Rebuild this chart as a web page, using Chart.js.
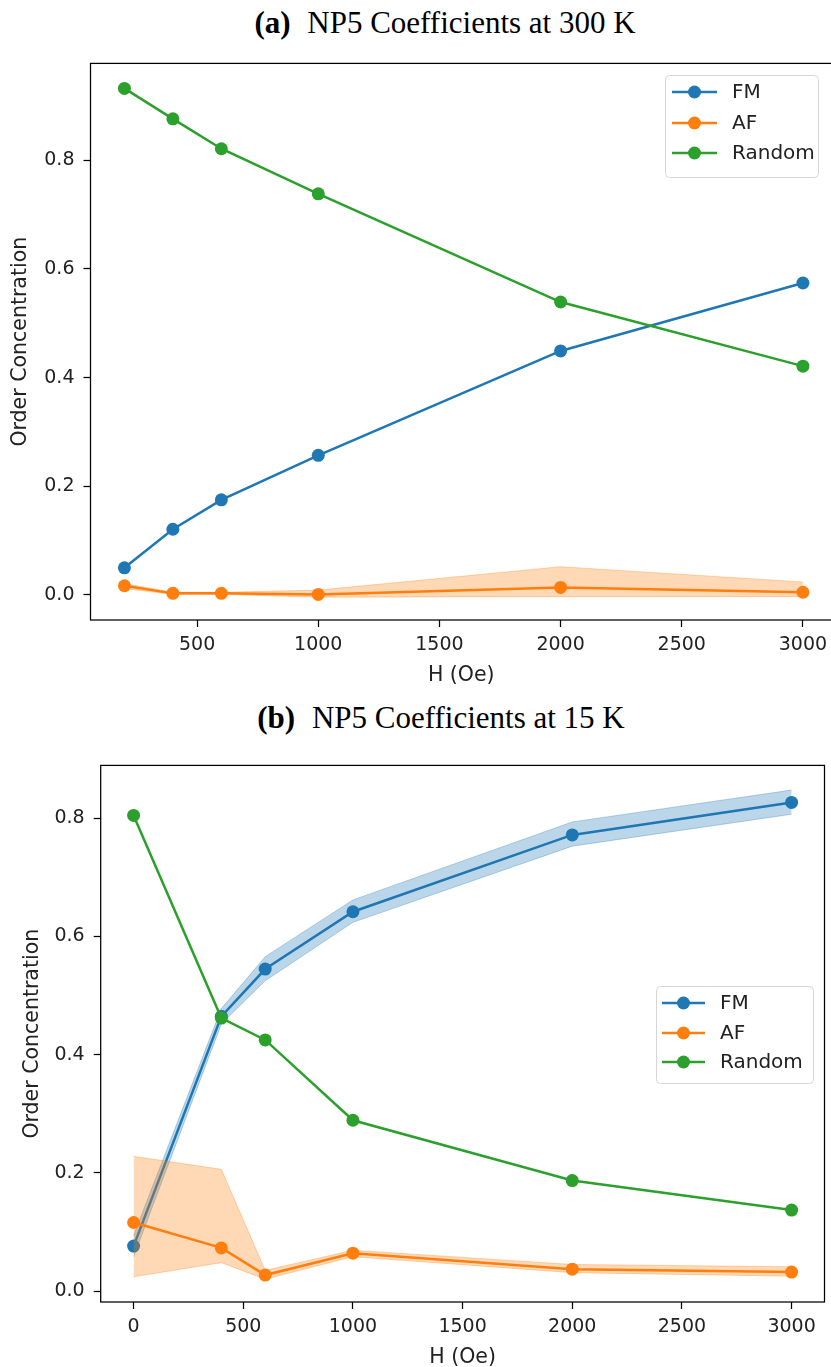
<!DOCTYPE html>
<html>
<head>
<meta charset="utf-8">
<script src="https://cdn.jsdelivr.net/npm/chart.js@4/dist/chart.umd.min.js"></script>
<style>
	html, body { margin: 0; padding: 0; background: #fff; }
	body { position: relative; width: 831px; height: 1367px; overflow: hidden; }
	.caption {
		position: absolute; left: 0; text-align: center; white-space: nowrap; color: #000;
		font-family: "Liberation Serif", "Times New Roman", serif; font-size: 31px; line-height: 31px;
	}
	.caption b { margin-right: 9px; }
	canvas { position: absolute; left: 0; }
</style>
</head>
<body>
<div class="caption" style="top:7px; width:890px;"><b>(a)</b> NP5 Coefficients at 300 K</div>
<canvas id="cnv_300k" width="840" height="645" style="top:43px;"></canvas>
<div class="caption" style="top:702px; width:882px;"><b>(b)</b> NP5 Coefficients at 15 K</div>
<canvas id="cnv_15k" width="831" height="625" style="top:745px;"></canvas>

<script>
// ---- 300 K run ----
const fieldsHot = [200, 400, 600, 1000, 2000, 3000];
const fmHot = [0.050, 0.121, 0.175, 0.257, 0.449, 0.574];
const afHot = [0.017, 0.003, 0.003, 0.001, 0.014, 0.005];
const afHotHi = [0.021, 0.005, 0.005, 0.009, 0.052, 0.024];
const afHotLo = [0.012, 0.001, 0.001, -0.004, -0.003, -0.003];
const randomHot = [0.932, 0.876, 0.821, 0.738, 0.539, 0.421];
const xTicksHot = [500, 1000, 1500, 2000, 2500, 3000];
const yTicksHot = [0.0, 0.2, 0.4, 0.6, 0.8];

// ---- 15 K run ----
const fieldsCold = [0, 400, 600, 1000, 2000, 3000];
const fmCold = [0.076, 0.465, 0.545, 0.642, 0.772, 0.827];
const fmColdHi = [0.094, 0.478, 0.566, 0.662, 0.794, 0.848];
const fmColdLo = [0.058, 0.452, 0.525, 0.624, 0.753, 0.807];
const afCold = [0.116, 0.073, 0.027, 0.064, 0.037, 0.032];
const afColdHi = [0.228, 0.206, 0.035, 0.069, 0.045, 0.041];
const afColdLo = [0.024, 0.048, 0.020, 0.058, 0.031, 0.025];
const randomCold = [0.805, 0.462, 0.425, 0.289, 0.187, 0.137];
const xTicksCold = [0, 500, 1000, 1500, 2000, 2500, 3000];
const yTicksCold = [0.0, 0.2, 0.4, 0.6, 0.8];

const seriesNames = ['FM', 'AF', 'Random'];
const seriesColors = ['#1f77b4', '#ff7f0e', '#2ca02c'];
const seriesRgb = ['31,119,180', '255,127,14', '44,160,44'];

Chart.defaults.font.family = "'DejaVu Sans', sans-serif";
Chart.defaults.color = '#222';

const pts = (xs, ys) => xs.map((x, i) => ({ x, y: ys[i] }));

// solid line with round markers
const lineSet = (label, xs, ys, idx, order) => ({
	label,
	data: pts(xs, ys),
	borderColor: seriesColors[idx],
	backgroundColor: seriesColors[idx],
	pointBackgroundColor: seriesColors[idx],
	borderWidth: 2.5,
	pointRadius: 6.5,
	pointHoverRadius: 6.5,
	pointBorderWidth: 0,
	tension: 0,
	fill: false,
	order
});

// shaded spread: upper edge fills down to the lower edge (next dataset)
const bandSets = (xs, hi, lo, idx, order) => {
	const c = `rgba(${seriesRgb[idx]},0.3)`;
	return [
		{ label: '', data: pts(xs, hi), borderColor: c, backgroundColor: c, borderWidth: 1, pointRadius: 0, tension: 0, fill: '+1', order },
		{ label: '', data: pts(xs, lo), borderColor: c, backgroundColor: c, borderWidth: 1, pointRadius: 0, tension: 0, fill: false, order }
	];
};

// box around the plotting area (all four spines)
const framePlugin = {
	id: 'frame',
	afterDatasetsDraw(chart) {
		const { ctx, chartArea: a } = chart;
		ctx.save();
		ctx.strokeStyle = '#000';
		ctx.lineWidth = 1.25;
		ctx.strokeRect(a.left, a.top, a.right - a.left, a.bottom - a.top);
		ctx.restore();
	}
};

// legend box drawn inside the axes
const boxLegend = {
	id: 'boxLegend',
	afterDraw(chart, args, opts) {
		const { ctx } = chart;
		const { x, y, w, h, rows, lineFrom, lineTo, textAt } = opts;
		ctx.save();
		ctx.beginPath();
		ctx.roundRect(x + 0.5, y + 0.5, w, h, 4);
		ctx.fillStyle = 'rgba(255,255,255,0.8)';
		ctx.fill();
		ctx.strokeStyle = '#d6d6d6';
		ctx.lineWidth = 1;
		ctx.stroke();
		seriesNames.forEach((name, i) => {
			const ry = y + rows[i];
			ctx.strokeStyle = seriesColors[i];
			ctx.lineWidth = 2.5;
			ctx.beginPath();
			ctx.moveTo(x + lineFrom, ry);
			ctx.lineTo(x + lineTo, ry);
			ctx.stroke();
			ctx.fillStyle = seriesColors[i];
			ctx.beginPath();
			ctx.arc(x + (lineFrom + lineTo) / 2, ry, 6.5, 0, Math.PI * 2);
			ctx.fill();
			ctx.fillStyle = '#222';
			ctx.font = "20px 'DejaVu Sans'";
			ctx.textBaseline = 'middle';
			ctx.fillText(name, x + textAt, ry + 1);
		});
		ctx.restore();
	}
};

const makeScales = ({ xMin, xMax, yMin, yMax, xTicks, yTicks, yWidth, yTitlePad }) => ({
	x: {
		type: 'linear',
		min: xMin,
		max: xMax,
		afterBuildTicks: scale => { scale.ticks = xTicks.map(value => ({ value })); },
		afterFit: scale => { scale.height = 68; },
		grid: { drawOnChartArea: false, drawTicks: true, tickLength: 7, tickWidth: 1.25, tickColor: '#000', color: 'rgba(0,0,0,0)' },
		border: { display: false },
		ticks: { font: { size: 19 }, padding: 7, maxRotation: 0, autoSkip: false, callback: v => String(v) },
		title: { display: true, text: 'H (Oe)', font: { size: 20.5 }, padding: { top: 0, bottom: 0 } }
	},
	y: {
		type: 'linear',
		min: yMin,
		max: yMax,
		afterBuildTicks: scale => { scale.ticks = yTicks.map(value => ({ value })); },
		afterFit: scale => { scale.width = yWidth; },
		grid: { drawOnChartArea: false, drawTicks: true, tickLength: 7, tickWidth: 1.25, tickColor: '#000', color: 'rgba(0,0,0,0)' },
		border: { display: false },
		ticks: { font: { size: 19 }, padding: 9, autoSkip: false, callback: v => v.toFixed(1) },
		title: { display: true, text: 'Order Concentration', font: { size: 20.5 }, padding: { top: yTitlePad, bottom: 0 } }
	}
});

const hotChart = new Chart(document.getElementById('cnv_300k').getContext('2d'), {
	type: 'line',
	plugins: [framePlugin, boxLegend],
	data: {
		datasets: [
			lineSet('FM', fieldsHot, fmHot, 0, 6),
			lineSet('AF', fieldsHot, afHot, 1, 4),
			...bandSets(fieldsHot, afHotHi, afHotLo, 1, 3),
			lineSet('Random', fieldsHot, randomHot, 2, 2)
		]
	},
	options: {
		responsive: false,
		animation: false,
		devicePixelRatio: 1,
		layout: { padding: { top: 0, right: 8, bottom: 0, left: 0 } },
		scales: makeScales({ xMin: 60, xMax: 3120, yMin: -0.046, yMax: 0.978, xTicks: xTicksHot, yTicks: yTicksHot, yWidth: 90.5, yTitlePad: 8.5 }),
		plugins: {
			legend: { display: false },
			tooltip: { enabled: false },
			boxLegend: { x: 665, y: 32, w: 153, h: 102, rows: [17, 48, 78], lineFrom: 7, lineTo: 52, textAt: 67 }
		}
	}
});

const coldChart = new Chart(document.getElementById('cnv_15k').getContext('2d'), {
	type: 'line',
	plugins: [framePlugin, boxLegend],
	data: {
		datasets: [
			lineSet('FM', fieldsCold, fmCold, 0, 6),
			...bandSets(fieldsCold, fmColdHi, fmColdLo, 0, 5),
			lineSet('AF', fieldsCold, afCold, 1, 4),
			...bandSets(fieldsCold, afColdHi, afColdLo, 1, 3),
			lineSet('Random', fieldsCold, randomCold, 2, 2)
		]
	},
	options: {
		responsive: false,
		animation: false,
		devicePixelRatio: 1,
		layout: { padding: { top: 20, right: 4, bottom: 0, left: 0 } },
		scales: makeScales({ xMin: -150, xMax: 3150, yMin: -0.0186, yMax: 0.8897, xTicks: xTicksCold, yTicks: yTicksCold, yWidth: 100.7, yTitlePad: 20 }),
		plugins: {
			legend: { display: false },
			tooltip: { enabled: false },
			boxLegend: { x: 656, y: 241, w: 157, h: 97, rows: [17, 47, 76], lineFrom: 6, lineTo: 49, textAt: 64 }
		}
	}
});
</script>
</body>
</html>
